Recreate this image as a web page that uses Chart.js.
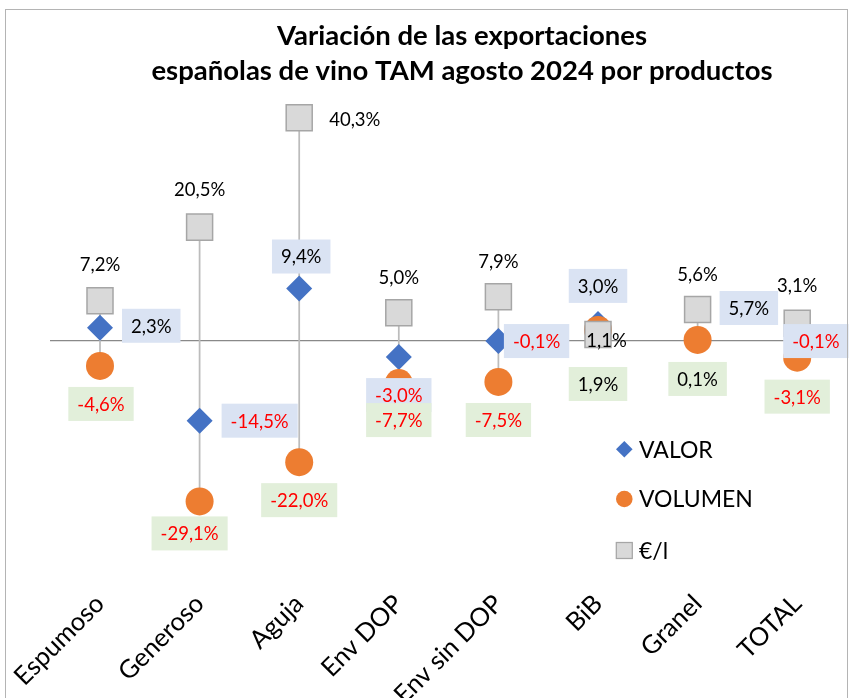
<!DOCTYPE html>
<html>
<head>
<meta charset="utf-8">
<script src="https://cdn.jsdelivr.net/npm/chart.js@4"></script>
<style>
  html, body { margin: 0; padding: 0; background: #fff; }
  canvas { display: block; }
</style>
</head>
<body>
<canvas id="grafico" width="854" height="698"></canvas>
<script>
// datos
const categorias = ["Espumoso", "Generoso", "Aguja", "Env DOP", "Env sin DOP", "BiB", "Granel", "TOTAL"];
const valor   = [2.3, -14.5, 9.4, -3.0, -0.1, 3.0, 5.7, -0.1];
const volumen = [-4.6, -29.1, -22.0, -7.7, -7.5, 1.9, 0.1, -3.1];
const precio  = [7.2, 20.5, 40.3, 5.0, 7.9, 1.1, 5.6, 3.1];
const titulo = ["Variación de las exportaciones", "españolas de vino TAM agosto 2024 por productos"];
const leyenda = ["VALOR", "VOLUMEN", "€/l"];

// colocacion de etiquetas: r = derecha, t = arriba, b = abajo, c = centro
const posValor   = [["r", 22, -2], ["r", 22, 0], ["t", 15, 2], ["b", 21, 0], ["r", 5.5, 0], ["t", 21, 0], ["r", 22, -1], ["r", -14, 0]];
const posVolumen = [["b", 21, 1], ["b", 15, -10], ["b", 21, 0], ["b", 20, 0], ["b", 21, 0], ["b", 37, 0], ["b", 22, 0], ["b", 22, 0]];
const posPrecio  = [["t", 20, 0], ["t", 21, 0], ["r", 21, 1], ["t", 19, 0], ["t", 19, 0], ["c", 8.5, 5.6], ["t", 19, 0], ["t", 21, 0]];

const AZUL = "#4472c4", NARANJA = "#ed7d31", GRIS = "#d9d9d9";
const FUENTE = "Lato";

function fmt(v) {
  return v.toFixed(1).replace(".", ",") + "%";
}

// lineas verticales max-min por categoria
const lineasMaxMin = {
  id: "lineasMaxMin",
  beforeDatasetsDraw(chart) {
    const ctx = chart.ctx, x = chart.scales.x, y = chart.scales.y;
    ctx.save();
    ctx.strokeStyle = "#bcbcbc";
    ctx.lineWidth = 1.75;
    categorias.forEach((c, i) => {
      const vals = [valor[i], volumen[i], precio[i]];
      const px = x.getPixelForValue(i);
      ctx.beginPath();
      ctx.moveTo(px, y.getPixelForValue(Math.max(...vals)));
      ctx.lineTo(px, y.getPixelForValue(Math.min(...vals)));
      ctx.stroke();
    });
    ctx.restore();
  }
};

// etiquetas de datos con fondo
const etiquetas = {
  id: "etiquetas",
  afterDatasetsDraw(chart) {
    const ctx = chart.ctx;
    ctx.save();
    ctx.font = "18.5px " + FUENTE;
    ctx.textAlign = "center";
    ctx.textBaseline = "middle";
    chart.data.datasets.forEach((ds, d) => {
      const meta = chart.getDatasetMeta(d);
      meta.data.forEach((pt, i) => {
        const txt = fmt(ds.data[i]);
        const w = ctx.measureText(txt).width + 18, h = 34;
        const [p, a, b] = ds.posiciones[i];
        let cx, cy;
        if (p === "r") { cx = pt.x + a + w / 2; cy = pt.y + b; }
        else if (p === "t") { cx = pt.x + b; cy = pt.y - a - h / 2; }
        else if (p === "b") { cx = pt.x + b; cy = pt.y + a + h / 2; }
        else { cx = pt.x + a; cy = pt.y + b; }
        if (ds.fondo) {
          ctx.fillStyle = ds.fondo;
          ctx.fillRect(cx - w / 2, cy - h / 2, w, h);
        }
        ctx.fillStyle = ds.data[i] < 0 ? "#ff0000" : "#000000";
        ctx.fillText(txt, cx, cy + 1);
      });
    });
    ctx.restore();
  }
};

// titulo, leyenda y borde del grafico
const decorado = {
  id: "decorado",
  afterDraw(chart) {
    const ctx = chart.ctx;
    ctx.save();
    ctx.strokeStyle = "#b4b4b4";
    ctx.lineWidth = 1;
    ctx.strokeRect(5.5, 9.5, 842, 700);

    ctx.fillStyle = "#000";
    ctx.textAlign = "center";
    ctx.textBaseline = "middle";
    ctx.font = "bold 27.5px " + FUENTE;
    ctx.fillText(titulo[0], 462, 36);
    ctx.fillText(titulo[1], 462, 71);

    // leyenda
    const lx = 624.3, ly = [449.3, 499, 550.5];
    ctx.fillStyle = AZUL;
    ctx.beginPath();
    ctx.moveTo(lx - 8.3, ly[0]); ctx.lineTo(lx, ly[0] - 8.3);
    ctx.lineTo(lx + 8.3, ly[0]); ctx.lineTo(lx, ly[0] + 8.3);
    ctx.closePath(); ctx.fill();
    ctx.fillStyle = NARANJA;
    ctx.beginPath(); ctx.arc(lx, ly[1], 8.3, 0, Math.PI * 2); ctx.fill();
    ctx.fillStyle = GRIS;
    ctx.strokeStyle = "#a6a6a6";
    ctx.lineWidth = 1.25;
    ctx.fillRect(lx - 8, ly[2] - 8, 16, 16);
    ctx.strokeRect(lx - 8, ly[2] - 8, 16, 16);

    ctx.fillStyle = "#000";
    ctx.textAlign = "left";
    ctx.font = "23px " + FUENTE;
    leyenda.forEach((t, i) => ctx.fillText(t, 639, ly[i] + 1));
    ctx.restore();
  }
};

const ctx = document.getElementById("grafico").getContext("2d");
new Chart(ctx, {
  type: "line",
  data: {
    labels: categorias,
    datasets: [
      {
        label: leyenda[0], data: valor, order: 3, showLine: false,
        pointStyle: "rectRot", pointRadius: 13, pointBorderWidth: 0,
        pointBackgroundColor: AZUL, pointBorderColor: AZUL,
        posiciones: posValor, fondo: "#dae3f3"
      },
      {
        label: leyenda[1], data: volumen, order: 2, showLine: false,
        pointStyle: "circle", pointRadius: 14, pointBorderWidth: 0,
        pointBackgroundColor: NARANJA, pointBorderColor: NARANJA,
        posiciones: posVolumen, fondo: "#e2efda"
      },
      {
        label: leyenda[2], data: precio, order: 1, showLine: false,
        pointStyle: "rect", pointRadius: 18.4, pointBorderWidth: 1.5,
        pointBackgroundColor: GRIS, pointBorderColor: "#a6a6a6",
        posiciones: posPrecio, fondo: null
      }
    ]
  },
  options: {
    responsive: false,
    animation: false,
    devicePixelRatio: 1,
    layout: { autoPadding: false, padding: { top: 91.65, left: 50.2, right: 7, bottom: 0 } },
    plugins: {
      legend: { display: false },
      title: { display: false },
      tooltip: { enabled: false }
    },
    scales: {
      x: {
        offset: true,
        grid: { display: false, drawTicks: false },
        border: { display: false },
        ticks: {
          autoSkip: false, minRotation: 45, maxRotation: 45, padding: 27,
          color: "#000", font: { family: FUENTE, size: 25.5 }
        },
        afterFit(axis) {
          axis.height = 698 - 561.7;
          axis.paddingLeft = 0;
          axis.paddingRight = 0;
        }
      },
      y: {
        min: -40, max: 45,
        ticks: { display: false, stepSize: 5 },
        border: { display: false },
        grid: {
          drawTicks: false,
          lineWidth: 1.25,
          color: c => (c.tick && c.tick.value === 0) ? "#898989" : "rgba(0,0,0,0)"
        },
        afterFit(axis) { axis.width = 0; }
      }
    }
  },
  plugins: [lineasMaxMin, etiquetas, decorado]
});
</script>
</body>
</html>
